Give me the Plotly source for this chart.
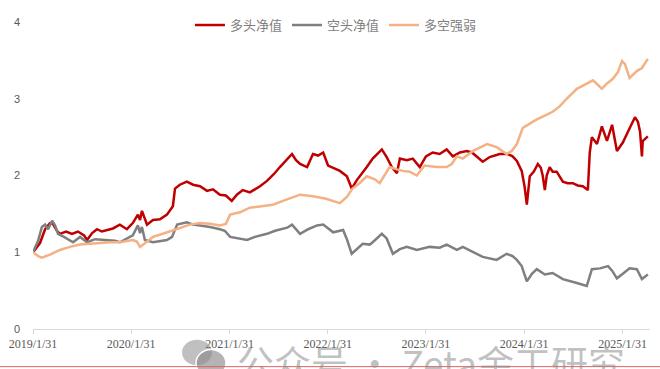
import plotly.graph_objects as go

# ---------------- data ----------------
long_dates = [
    "2019-01-31", "2019-02-26", "2019-03-17", "2019-04-04", "2019-04-15", "2019-04-30", "2019-05-11",
    "2019-06-03", "2019-06-25", "2019-07-17", "2019-08-09", "2019-08-20", "2019-09-08", "2019-09-26",
    "2019-10-14", "2019-11-02", "2019-11-24", "2019-12-20", "2020-01-03", "2020-01-15", "2020-02-06",
    "2020-02-25", "2020-03-04", "2020-03-11", "2020-03-30", "2020-04-21", "2020-05-17", "2020-06-12",
    "2020-07-04", "2020-07-12", "2020-07-30", "2020-08-25", "2020-09-17", "2020-10-13", "2020-11-08",
    "2020-11-30", "2020-12-26", "2021-01-17", "2021-02-08", "2021-02-27", "2021-03-21", "2021-04-16",
    "2021-05-05", "2021-05-24", "2021-06-19", "2021-07-15", "2021-08-06", "2021-08-29", "2021-09-20",
    "2021-10-05", "2021-10-20", "2021-11-15", "2021-12-07", "2021-12-26", "2022-01-14", "2022-02-01",
    "2022-02-23", "2022-03-17", "2022-04-12", "2022-04-30", "2022-05-19", "2022-06-07", "2022-06-25",
    "2022-07-17", "2022-08-05", "2022-08-20", "2022-09-07", "2022-09-26", "2022-10-15", "2022-10-26",
    "2022-11-21", "2022-12-13", "2023-01-08", "2023-01-31", "2023-02-25", "2023-03-23", "2023-04-18",
    "2023-05-11", "2023-06-06", "2023-07-02", "2023-07-21", "2023-08-08", "2023-08-30", "2023-09-25",
    "2023-11-01", "2023-12-01", "2023-12-19", "2024-01-04", "2024-01-22", "2024-02-02", "2024-02-10",
    "2024-02-21", "2024-03-07", "2024-03-22", "2024-04-02", "2024-04-09", "2024-04-17", "2024-04-24",
    "2024-05-05", "2024-05-16", "2024-05-31", "2024-06-23", "2024-07-11", "2024-07-30", "2024-08-17",
    "2024-09-05", "2024-09-24", "2024-10-01", "2024-10-09", "2024-10-28", "2024-11-15", "2024-12-04",
    "2024-12-23", "2025-01-10", "2025-02-01", "2025-02-20", "2025-03-18", "2025-03-29", "2025-04-06",
    "2025-04-13", "2025-04-16", "2025-05-05",
]
long_values = [
    1.00, 1.12, 1.30, 1.38, 1.37, 1.28, 1.24,
    1.27, 1.24, 1.27, 1.22, 1.16, 1.25, 1.30,
    1.27, 1.29, 1.31, 1.36, 1.33, 1.30, 1.38,
    1.49, 1.42, 1.54, 1.36, 1.42, 1.43, 1.49,
    1.60, 1.83, 1.88, 1.92, 1.88, 1.86, 1.80,
    1.82, 1.75, 1.74, 1.67, 1.75, 1.81, 1.78,
    1.82, 1.86, 1.93, 2.02, 2.11, 2.20, 2.28,
    2.20, 2.15, 2.11, 2.28, 2.26, 2.30, 2.13,
    2.10, 2.06, 1.99, 1.83, 1.94, 2.02, 2.11,
    2.22, 2.28, 2.34, 2.24, 2.11, 2.03, 2.22,
    2.20, 2.22, 2.11, 2.25, 2.30, 2.28, 2.34,
    2.25, 2.30, 2.32, 2.30, 2.24, 2.18, 2.24,
    2.28, 2.28, 2.25, 2.19, 2.06, 1.85, 1.62,
    1.99, 2.05, 2.15, 2.10, 2.00, 1.81, 2.00,
    2.11, 2.05, 2.05, 1.92, 1.90, 1.90, 1.87,
    1.86, 1.81, 2.30, 2.50, 2.41, 2.64, 2.45,
    2.66, 2.32, 2.43, 2.57, 2.76, 2.70, 2.57,
    2.25, 2.45, 2.51,
]

short_dates = [
    "2019-01-31", "2019-02-19", "2019-03-05", "2019-03-17", "2019-03-28", "2019-04-12", "2019-04-23",
    "2019-05-04", "2019-05-26", "2019-06-29", "2019-07-25", "2019-08-20", "2019-09-19", "2019-11-02",
    "2019-12-02", "2019-12-20", "2020-01-15", "2020-02-06", "2020-02-25", "2020-03-04", "2020-03-11",
    "2020-03-22", "2020-04-21", "2020-05-17", "2020-06-12", "2020-07-01", "2020-07-20", "2020-08-25",
    "2020-09-17", "2020-10-13", "2020-11-19", "2020-12-26", "2021-01-13", "2021-02-02", "2021-03-11",
    "2021-04-06", "2021-05-05", "2021-06-19", "2021-07-19", "2021-09-02", "2021-09-20", "2021-10-20",
    "2021-11-19", "2021-12-22", "2022-01-14", "2022-02-20", "2022-03-29", "2022-04-12", "2022-04-30",
    "2022-05-19", "2022-06-10", "2022-07-06", "2022-07-17", "2022-08-20", "2022-09-07", "2022-09-30",
    "2022-10-26", "2022-11-21", "2022-12-28", "2023-02-14", "2023-03-23", "2023-04-18", "2023-05-26",
    "2023-06-17", "2023-07-25", "2023-08-30", "2023-10-21", "2023-11-27", "2023-12-19", "2024-01-04",
    "2024-01-22", "2024-02-10", "2024-02-29", "2024-03-18", "2024-04-17", "2024-05-16", "2024-06-23",
    "2024-07-19", "2024-08-14", "2024-09-20", "2024-10-09", "2024-11-08", "2024-12-08", "2024-12-23",
    "2025-01-10", "2025-02-01", "2025-02-26", "2025-03-25", "2025-04-13", "2025-05-05",
]
short_values = [
    1.00, 1.15, 1.33, 1.36, 1.30, 1.41, 1.35,
    1.24, 1.20, 1.13, 1.20, 1.13, 1.17, 1.16,
    1.15, 1.13, 1.18, 1.22, 1.35, 1.25, 1.33,
    1.16, 1.13, 1.15, 1.16, 1.20, 1.36, 1.39,
    1.36, 1.35, 1.33, 1.30, 1.28, 1.20, 1.18,
    1.16, 1.20, 1.24, 1.28, 1.32, 1.36, 1.24,
    1.30, 1.35, 1.36, 1.26, 1.29, 1.17, 0.98,
    1.04, 1.11, 1.10, 1.13, 1.24, 1.18, 0.98,
    1.04, 1.07, 1.03, 1.07, 1.06, 1.10, 1.03,
    1.07, 1.00, 0.94, 0.90, 0.98, 0.95, 0.90,
    0.82, 0.62, 0.72, 0.78, 0.71, 0.73, 0.65,
    0.63, 0.60, 0.56, 0.78, 0.79, 0.82, 0.76,
    0.66, 0.72, 0.79, 0.78, 0.65, 0.71,
]

ls_dates = [
    "2019-01-31", "2019-02-19", "2019-03-05", "2019-04-04", "2019-05-11", "2019-06-17", "2019-07-25",
    "2019-08-20", "2019-10-07", "2019-11-13", "2019-12-20", "2020-02-06", "2020-02-21", "2020-03-04",
    "2020-03-22", "2020-04-21", "2020-06-05", "2020-07-30", "2020-09-05", "2020-10-13", "2020-11-19",
    "2020-12-26", "2021-01-17", "2021-02-02", "2021-03-11", "2021-04-16", "2021-05-31", "2021-07-11",
    "2021-08-25", "2021-10-20", "2021-12-07", "2022-01-21", "2022-03-17", "2022-04-12", "2022-05-03",
    "2022-05-29", "2022-06-25", "2022-07-25", "2022-08-12", "2022-09-18", "2022-10-15", "2022-11-06",
    "2022-12-01", "2022-12-28", "2023-01-26", "2023-03-12", "2023-04-18", "2023-05-07", "2023-05-26",
    "2023-06-17", "2023-07-25", "2023-09-15", "2023-10-21", "2023-11-27", "2023-12-16", "2024-01-04",
    "2024-01-26", "2024-02-21", "2024-03-18", "2024-04-17", "2024-05-16", "2024-06-11", "2024-07-07",
    "2024-08-14", "2024-09-13", "2024-10-13", "2024-11-15", "2024-12-04", "2024-12-26", "2025-01-14",
    "2025-01-29", "2025-02-09", "2025-02-26", "2025-03-25", "2025-04-13", "2025-05-05",
]
ls_values = [
    1.00, 0.95, 0.93, 0.97, 1.03, 1.07, 1.10,
    1.11, 1.12, 1.13, 1.13, 1.16, 1.14, 1.07,
    1.12, 1.20, 1.25, 1.32, 1.36, 1.38, 1.37,
    1.35, 1.37, 1.49, 1.52, 1.58, 1.60, 1.62,
    1.68, 1.75, 1.73, 1.70, 1.64, 1.72, 1.83,
    1.90, 1.99, 1.95, 1.90, 2.11, 2.08, 2.06,
    2.05, 2.00, 2.13, 2.11, 2.11, 2.15, 2.25,
    2.22, 2.32, 2.41, 2.37, 2.28, 2.32, 2.41,
    2.62, 2.68, 2.73, 2.78, 2.83, 2.90, 3.00,
    3.13, 3.18, 3.24, 3.13, 3.20, 3.26, 3.35,
    3.49, 3.45, 3.27, 3.36, 3.40, 3.52,
]

series_names = ["多头净值", "空头净值", "多空强弱"]
tick_dates = ["2019-01-31", "2020-01-31", "2021-01-31", "2022-01-31",
              "2023-01-31", "2024-01-31", "2025-01-31"]
tick_labels = ["2019/1/31", "2020/1/31", "2021/1/31", "2022/1/31",
               "2023/1/31", "2024/1/31", "2025/1/31"]
y_ticks = [0, 1, 2, 3, 4]
watermark = "公众号 · Zeta金工研究"

# ---------------- figure ----------------
colors = ["#C00000", "#7F7F7F", "#F4B183"]
fig = go.Figure()
for name, xs, ys, c in zip(series_names,
                           [long_dates, short_dates, ls_dates],
                           [long_values, short_values, ls_values],
                           colors):
    fig.add_trace(go.Scatter(x=xs, y=ys, mode="lines", name=name,
                             line=dict(color=c, width=2.5)))

fig.update_layout(
    width=660, height=369,
    margin=dict(l=33, r=10, t=15, b=40),
    paper_bgcolor="white", plot_bgcolor="white",
    showlegend=True,
    legend=dict(orientation="h", x=0.491, xanchor="center", y=0.99, yanchor="middle",
                font=dict(family="Noto Sans CJK SC", size=13, color="#7F7F7F"),
                itemwidth=30, bgcolor="rgba(0,0,0,0)", tracegroupgap=0),
    xaxis=dict(type="date", range=["2019-01-31", "2025-05-13"],
               tickvals=tick_dates, ticktext=tick_labels,
               showgrid=False, zeroline=False,
               showline=True, linecolor="#D9D9D9", linewidth=1,
               ticks="outside", ticklen=4, tickcolor="#D9D9D9",
               tickfont=dict(family="Liberation Serif", size=12, color="#595959")),
    yaxis=dict(range=[0, 4], tickvals=y_ticks, showgrid=False, zeroline=False,
               showline=False, ticks="", ticklabelstandoff=12,
               tickfont=dict(family="Liberation Sans", size=11, color="#595959")),
)

# watermark overlay (as in the reference picture)
fig.add_annotation(text=watermark, xref="paper", yref="paper",
                   x=(235 - 33) / 617, y=-0.012, xanchor="left", yanchor="top",
                   showarrow=False,
                   font=dict(family="Noto Sans CJK SC", size=37, color="rgba(140,140,140,0.55)"))
fig.add_shape(type="circle", xref="paper", yref="paper",
              x0=(182 - 33) / 617, x1=(212 - 33) / 617, y0=(329 - 366) / 314, y1=(329 - 340) / 314,
              fillcolor="rgba(140,140,140,0.55)", line=dict(width=0))
fig.add_shape(type="circle", xref="paper", yref="paper",
              x0=(196 - 33) / 617, x1=(226 - 33) / 617, y0=(329 - 378) / 314, y1=(329 - 350) / 314,
              fillcolor="rgba(140,140,140,0.65)", line=dict(color="white", width=1.5))
fig.add_shape(type="line", xref="paper", yref="paper",
              x0=-33 / 617, x1=627 / 617, y0=(329 - 367.5) / 314, y1=(329 - 367.5) / 314,
              line=dict(color="#E06060", width=1))

fig.write_html("out.html")
